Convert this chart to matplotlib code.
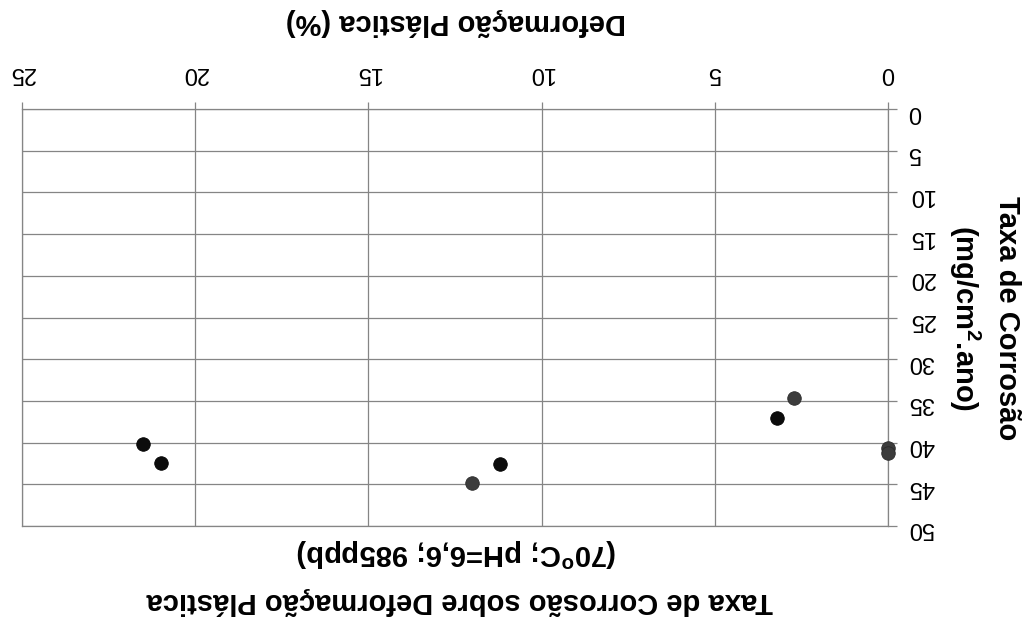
import matplotlib
matplotlib.use("Agg")
import matplotlib.pyplot as plt

plt.rcParams["font.family"] = ["Liberation Sans", "DejaVu Sans"]
plt.rcParams["mathtext.fontset"] = "custom"
plt.rcParams["mathtext.rm"] = "Liberation Sans"
plt.rcParams["mathtext.bf"] = "Liberation Sans:bold"

# Deformação plástica (%) vs taxa de corrosão (mg/cm².ano)
deform_a = [21.5, 21.0, 11.2, 3.2]
taxa_a = [40.2, 42.5, 42.6, 37.0]
deform_b = [12.0, 2.7, 0.0, 0.0]
taxa_b = [44.9, 34.6, 40.6, 41.2]

x_ticks = [0, 5, 10, 15, 20, 25]
y_ticks = [0, 5, 10, 15, 20, 25, 30, 35, 40, 45, 50]

W, H = 1029, 623
fig = plt.figure(figsize=(W / 100, H / 100), dpi=100)
ax = fig.add_axes([22 / W, 1 - 526 / H, (888 - 22) / W, (526 - 109) / H])

grid_c = "#858585"
ax.set_xlim(25, 0)
ax.set_ylim(50, 0)
ax.set_xticks(x_ticks)
ax.set_yticks(y_ticks)
ax.grid(True, color=grid_c, linewidth=0.9)
ax.set_axisbelow(True)
for s in ax.spines.values():
    s.set_color(grid_c)
    s.set_linewidth(0.9)

ax.xaxis.tick_top()
ax.yaxis.tick_right()
ax.tick_params(axis="x", direction="out", length=5, width=0.9, color=grid_c,
               pad=13, labelsize=17, labelrotation=180)
ax.tick_params(axis="y", direction="out", length=6.5, width=0.9, color=grid_c,
               pad=8, labelsize=17, labelrotation=180)
for lab in ax.get_yticklabels():
    lab.set_ha("left")

ax.scatter(deform_a, taxa_a, s=95, color="#0c0c0c", edgecolors="#000000",
           linewidths=0.6, zorder=3, clip_on=False)
ax.scatter(deform_b, taxa_b, s=95, color="#3c3c3c", edgecolors="#2a2a2a",
           linewidths=0.6, zorder=3, clip_on=False)

def fx(px):
    return px / W

def fy(py):
    return 1 - py / H

lab_size = 21
fig.text(fx(456), fy(22), "Deformação Plástica (%)", rotation=180,
         ha="center", va="center", fontsize=lab_size, fontweight="bold")
fig.text(fx(457), fy(552), r"(70$^{\mathbf{o}}$C; pH=6,6; 985ppb)", rotation=180,
         ha="center", va="center", fontsize=lab_size, fontweight="bold")
fig.text(fx(460), fy(601), "Taxa de Corrosão sobre Deformação Plástica", rotation=180,
         ha="center", va="center", fontsize=lab_size, fontweight="bold")
fig.text(fx(1007), fy(318), "Taxa de Corrosão", rotation=270,
         ha="center", va="center", fontsize=lab_size, fontweight="bold")
fig.text(fx(965), fy(318), r"(mg/cm$^{\mathbf{2}}$.ano)", rotation=270,
         ha="center", va="center", fontsize=lab_size, fontweight="bold")

fig.savefig("out.png", dpi=100, facecolor="white")
